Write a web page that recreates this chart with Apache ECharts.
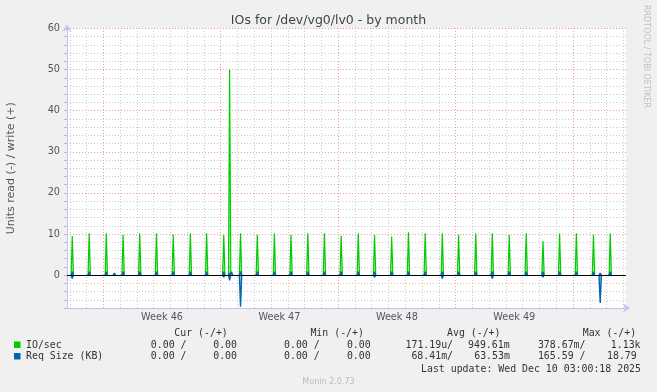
<!DOCTYPE html>
<html><head><meta charset="utf-8">
<script src="https://cdn.jsdelivr.net/npm/echarts@6/dist/echarts.min.js"></script>
<style>html,body{margin:0;padding:0;background:#f0f0f0}#c{width:657px;height:392px}</style>
</head><body><div id="c"></div>
<script>
// ---- data (x in days relative to Monday of ISO week 46, 00:00) ----
const spikeDays = [-1.85, -0.84, 0.18, 1.18, 2.17, 3.17, 4.17, 5.19, 6.16, 7.18, 7.53, 8.18, 9.18, 10.2, 11.19, 12.19, 13.18, 14.18, 15.2, 16.17, 17.19, 18.19, 19.19, 20.21, 21.18, 22.2, 23.19, 24.2, 25.21, 26.21, 27.2, 28.2, 29.22, 30.22];
const ioWrite = [9.5, 10.2, 10.2, 9.8, 10.2, 10.2, 9.9, 10.2, 10.2, 9.8, 50, 10.2, 9.8, 10.2, 9.8, 10.2, 10.2, 9.6, 10.2, 9.8, 9.4, 10.4, 10.2, 10.2, 9.8, 10.2, 10.2, 9.8, 10.2, 8.3, 10.2, 10.2, 9.8, 10.2];
const sizeDays = [-1.85, -0.84, 0.18, 0.66, 1.18, 2.17, 3.17, 4.17, 5.19, 6.16, 7.18, 7.53, 7.64, 8.18, 9.18, 10.2, 11.19, 12.19, 13.18, 14.18, 15.2, 16.17, 17.19, 18.19, 19.19, 20.21, 21.18, 22.2, 23.19, 24.2, 25.21, 26.21, 27.2, 28.2, 29.22, 29.62, 30.22];
const sizeWrite = [0.8, 0.8, 0.8, 0.5, 0.8, 0.8, 0.8, 0.8, 0.8, 0.8, 0.8, 0.5, 0.8, 0.9, 0.8, 0.8, 0.8, 0.8, 0.8, 0.8, 0.8, 0.8, 0.8, 0.8, 0.8, 0.8, 0.8, 0.8, 0.8, 0.8, 0.8, 0.8, 0.8, 0.8, 0.8, 0.5, 0.8];
const sizeRead = [-0.8, -0.2, -0.2, -0.2, -0.4, -0.2, -0.2, -0.2, -0.2, -0.3, -0.5, -1.3, 0, -7.7, -0.2, -0.2, -0.3, -0.2, -0.2, -0.2, -0.2, -0.5, -0.2, -0.2, -0.2, -0.8, -0.3, -0.3, -0.8, -0.2, -0.2, -0.5, -0.2, -0.2, -0.4, -6.8, -0.2];
const dayTicks = [-2,-1,0,1,2,3,4,5,6,7,8,9,10,11,12,13,14,15,16,17,18,19,20,21,22,23,24,25,26,27,28,29,30,31];
const weekNames = ['Week 46', 'Week 47', 'Week 48', 'Week 49'];
const weekCenters = [3.5, 10.5, 17.5, 24.5];
const legendHead = ['Cur (-/+)', 'Min (-/+)', 'Avg (-/+)', 'Max (-/+)'];
const ioStats = ['0.00 /', '0.00', '0.00 /', '0.00', '171.19u/', '949.61m', '378.67m/', '1.13k'];
const sizeStats = ['0.00 /', '0.00', '0.00 /', '0.00', '68.41m/', '63.53m', '165.59 /', '18.79'];
const lastUpdate = 'Last update: Wed Dec 10 03:00:18 2025';

// x axis works in hours
const H = 24;
const HALF = 0.07 * H;
function spikes(days, vals) {
  const out = [];
  days.forEach((d, i) => {
    if (!vals[i]) return;
    const t = d * H;
    out.push([t - HALF, 0], [t, vals[i]], [t + HALF, 0], [t + HALF, '-']);
  });
  return out;
}

const AX = '#c4c4ee';
const G = 'rgba(150,150,150,0.5)';
const R = 'rgba(235,120,120,0.75)';
const MONO = '"DejaVu Sans Mono", monospace';
const SANS = '"DejaVu Sans", sans-serif';

const vLines = dayTicks.map(d => ({xAxis: d * H,
  lineStyle: {color: (d % 7 === 0) ? R : G, type: [1, 2], width: 1}}));

const graphics = [];
function txt(x, y, s, opt) {
  graphics.push({type: 'text', x: x, y: y, silent: true,
    style: Object.assign({text: s, font: '9.9px ' + MONO, fill: '#333', textVerticalAlign: 'middle'}, opt || {})});
}
const headX = [174.3, 310.4, 447, 582.7];
legendHead.forEach((s, i) => txt(headX[i], 333, s));
const row1X = [150.8, 213.2, 284, 346.9, 405.5, 468, 537.9, 610.8];
const row2X = [150.8, 213.2, 284, 346.9, 411.4, 474.2, 537.9, 607];
txt(26, 345, 'IO/sec');
txt(26, 356.5, 'Req Size (KB)');
ioStats.forEach((s, i) => txt(row1X[i], 345, s));
sizeStats.forEach((s, i) => txt(row2X[i], 356.5, s));
txt(421, 369, lastUpdate);
graphics.push({type: 'rect', shape: {x: 14, y: 341.5, width: 6.5, height: 6.5}, style: {fill: '#00cc00'}, silent: true});
graphics.push({type: 'rect', shape: {x: 14, y: 353, width: 6.5, height: 6.5}, style: {fill: '#0066b3'}, silent: true});
graphics.push({type: 'text', x: 328.5, y: 381.5, silent: true,
  style: {text: 'Munin 2.0.73', font: '8px ' + SANS, fill: '#bbbbbb', textAlign: 'center', textVerticalAlign: 'middle'}});
graphics.push({type: 'text', x: 646, y: 5, rotation: -Math.PI / 2, silent: true,
  style: {text: 'RRDTOOL / TOBI OETIKER', font: '8px ' + SANS, fill: '#c0c0c0', textAlign: 'left', textVerticalAlign: 'middle'}});

const weekCentersH = weekCenters.map(d => d * H);

const chart = echarts.init(document.getElementById('c'), null, {renderer: 'canvas'});
chart.setOption({
  animation: false,
  backgroundColor: '#f0f0f0',
  title: {text: 'IOs for /dev/vg0/lv0 - by month', left: 'center', top: 9,
    textStyle: {fontSize: 12.5, fontWeight: 'normal', color: '#444', fontFamily: SANS}},
  grid: {left: 67, right: 31, top: 28.5, bottom: 84, show: true, backgroundColor: '#ffffff', borderWidth: 0,
    containLabel: false, outerBoundsMode: 'none'},
  xAxis: {
    type: 'value', min: -51.94, max: 747.8,
    axisLine: {onZero: false, lineStyle: {color: AX, width: 1}, symbol: ['none', 'arrow'], symbolSize: [7, 7], symbolOffset: [0, 4]},
    axisTick: {show: false},
    splitLine: {show: false},
    axisLabel: {customValues: weekCentersH, formatter: v => weekNames[weekCentersH.indexOf(v)] || '',
      color: '#555', fontSize: 9.7, fontFamily: SANS, margin: 4}
  },
  yAxis: {
    type: 'value', min: -8, max: 60, interval: 2,
    name: 'Units read (-) / write (+)', nameLocation: 'middle', nameGap: 50,
    nameTextStyle: {fontSize: 11, color: '#555', fontFamily: SANS},
    axisLine: {show: true, onZero: false, lineStyle: {color: AX, width: 1}, symbol: ['none', 'arrow'], symbolSize: [7, 7], symbolOffset: [0, 4]},
    axisTick: {show: true, length: 3, lineStyle: {color: '#bbbbbb'}},
    splitLine: {show: true, lineStyle: {color: [G, G, G, G, R], type: [1, 2], width: 1}},
    axisLabel: {formatter: v => (v >= 0 && v % 10 === 0) ? String(v) : '', color: '#555', fontSize: 9.7, fontFamily: SANS, margin: 7}
  },
  graphic: graphics,
  series: [
    {name: 'vgrid', type: 'line', data: [], z: 1,
      markLine: {silent: true, symbol: 'none', label: {show: false}, animation: false, data: vLines}},
    {name: 'IO/sec', type: 'line', data: spikes(spikeDays, ioWrite), showSymbol: false, connectNulls: false,
      lineStyle: {color: '#00cc00', width: 1.2}, itemStyle: {color: '#00cc00'},
      areaStyle: {color: 'rgba(0,204,0,0.45)'}, z: 3},
    {name: 'Req Size (KB) write', type: 'line', data: spikes(sizeDays, sizeWrite), showSymbol: false, connectNulls: false,
      lineStyle: {color: '#0066b3', width: 1.4}, itemStyle: {color: '#0066b3'},
      areaStyle: {color: 'rgba(0,102,179,0.45)'}, z: 4},
    {name: 'Req Size (KB) read', type: 'line', data: spikes(sizeDays, sizeRead), showSymbol: false, connectNulls: false,
      lineStyle: {color: '#0066b3', width: 1.4}, itemStyle: {color: '#0066b3'},
      areaStyle: {color: 'rgba(0,102,179,0.45)'}, z: 4},
    {name: 'zero', type: 'line', data: [], z: 6,
      markLine: {silent: true, symbol: 'none', label: {show: false}, animation: false,
        lineStyle: {color: '#000000', width: 1.2, type: 'solid'}, data: [{yAxis: 0}]}}
  ]
});
</script></body></html>
